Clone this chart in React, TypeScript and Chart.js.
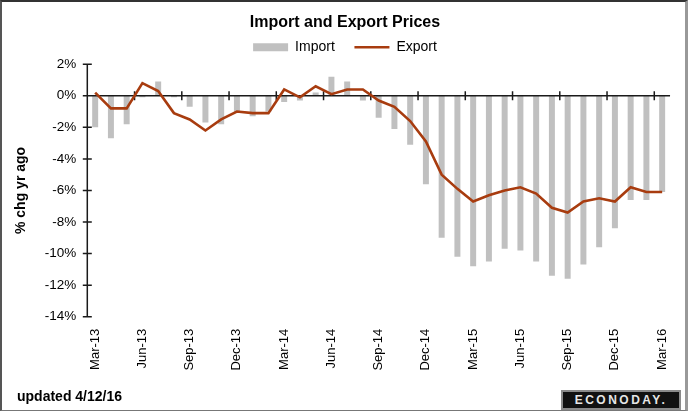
import React, { useEffect, useRef } from "react";
import { Chart, registerables } from "chart.js";

Chart.register(...registerables);

const categories = [
  "Mar-13", "Apr-13", "May-13", "Jun-13", "Jul-13", "Aug-13", "Sep-13", "Oct-13", "Nov-13", "Dec-13",
  "Jan-14", "Feb-14", "Mar-14", "Apr-14", "May-14", "Jun-14", "Jul-14", "Aug-14", "Sep-14", "Oct-14",
  "Nov-14", "Dec-14", "Jan-15", "Feb-15", "Mar-15", "Apr-15", "May-15", "Jun-15", "Jul-15", "Aug-15",
  "Sep-15", "Oct-15", "Nov-15", "Dec-15", "Jan-16", "Feb-16", "Mar-16",
];

const importValues = [
  -2.0, -2.7, -1.8, -0.1, 0.9, -0.1, -0.7, -1.7, -1.8, -1.1,
  -1.3, -1.0, -0.4, -0.3, 0.2, 1.2, 0.9, -0.3, -1.4, -2.1,
  -3.1, -5.6, -9.0, -10.2, -10.8, -10.5, -9.7, -9.8, -10.5, -11.4,
  -11.6, -10.7, -9.6, -8.4, -6.6, -6.6, -6.1,
];

const exportValues = [
  0.2, -0.8, -0.8, 0.8, 0.3, -1.1, -1.5, -2.2, -1.5, -1.0,
  -1.1, -1.1, 0.4, -0.1, 0.6, 0.1, 0.4, 0.4, -0.3, -0.7,
  -1.6, -2.9, -5.0, -5.9, -6.7, -6.3, -6.0, -5.8, -6.2, -7.1,
  -7.4, -6.7, -6.5, -6.7, -5.8, -6.1, -6.1,
];

const yTickValues = [2, 0, -2, -4, -6, -8, -10, -12, -14];
const yMin = -14;
const yMax = 2;
const labelEvery = 3;

const FONT = "'Liberation Sans', Arial, sans-serif";

const axesPlugin = {
  id: "customAxes",
  afterDatasetDraw(chart: any, args: any) {
    if (args.index !== 0) return;
    const { ctx, chartArea, scales } = chart;
    const xs = scales.x;
    const ys = scales.y;
    const y0 = ys.getPixelForValue(0);
    const left = chartArea.left;
    ctx.save();
    ctx.strokeStyle = "#1a1a1a";
    ctx.lineWidth = 1.5;
    ctx.beginPath();
    ctx.moveTo(left, y0);
    ctx.lineTo(chartArea.right, y0);
    ctx.moveTo(left, ys.getPixelForValue(yMax));
    ctx.lineTo(left, ys.getPixelForValue(yMin));
    yTickValues.forEach((v) => {
      const py = ys.getPixelForValue(v);
      ctx.moveTo(left - 4.5, py);
      ctx.lineTo(left + 4.5, py);
    });
    for (let i = labelEvery; i < categories.length; i += labelEvery) {
      const px = (xs.getPixelForValue(i) + xs.getPixelForValue(i - 1)) / 2;
      ctx.moveTo(px, y0 - 4.5);
      ctx.lineTo(px, y0 + 4.5);
    }
    ctx.stroke();
    ctx.restore();
  },
};

export default function App() {
  const canvasRef = useRef<HTMLCanvasElement | null>(null);

  useEffect(() => {
    const canvas = canvasRef.current;
    if (!canvas) return;
    const chart = new Chart(canvas, {
      type: "bar",
      data: {
        labels: categories,
        datasets: [
          {
            type: "bar",
            label: "Import",
            data: importValues,
            backgroundColor: "#c0c0c0",
            borderWidth: 0,
            categoryPercentage: 1,
            barPercentage: 0.38,
            pointStyle: "rect",
            order: 2,
          } as any,
          {
            type: "line",
            label: "Export",
            data: exportValues,
            borderColor: "#a83c0f",
            backgroundColor: "#a83c0f",
            borderWidth: 2.6,
            pointRadius: 0,
            pointStyle: "line",
            tension: 0,
            order: 1,
          } as any,
        ],
      },
      options: {
        responsive: false,
        animation: false,
        devicePixelRatio: 1,
        layout: { padding: { left: 0, right: 0, top: 0, bottom: 0 } },
        plugins: {
          title: {
            display: true,
            text: "Import and Export Prices",
            color: "#000",
            font: { family: FONT, size: 16, weight: "bold" },
            padding: { top: 13, bottom: 0 },
          },
          legend: {
            display: true,
            labels: {
              usePointStyle: true,
              pointStyleWidth: 35,
              boxHeight: 8,
              color: "#000",
              padding: 8,
              font: { family: FONT, size: 14 },
              sort: (a: any, b: any) => a.datasetIndex - b.datasetIndex,
              generateLabels: (c: any) =>
                (Chart.defaults.plugins.legend.labels as any)
                  .generateLabels(c)
                  .map((l: any) => (l.datasetIndex === 0 ? { ...l, text: l.text + "   " } : l)),
            },
          },
          tooltip: { enabled: false },
        },
        scales: {
          x: {
            offset: true,
            grid: { display: false, drawTicks: false },
            border: { display: false },
            ticks: {
              autoSkip: false,
              maxRotation: 90,
              minRotation: 90,
              padding: 12,
              color: "#000",
              font: { family: FONT, size: 13 },
              callback: (_v: any, i: number) => (i % labelEvery === 0 ? categories[i] : null),
            },
            afterFit: (s: any) => {
              s.height = 95.3;
            },
          },
          y: {
            min: yMin,
            max: yMax,
            grid: { display: false, drawTicks: false },
            border: { display: false },
            ticks: {
              stepSize: 2,
              padding: 11,
              color: "#000",
              font: { family: FONT, size: 13.5 },
              callback: (v: any) => v + "%",
            },
            title: {
              display: true,
              text: "% chg yr ago",
              color: "#000",
              font: { family: FONT, size: 14, weight: "bold" },
              padding: { top: 13, bottom: 0 },
            },
            afterFit: (s: any) => {
              s.width = 87.3;
            },
          },
          yRight: {
            position: "right",
            min: yMin,
            max: yMax,
            grid: { display: false, drawTicks: false },
            border: { display: false },
            ticks: { display: false },
            afterFit: (s: any) => {
              s.width = 18;
            },
          },
        },
      },
      plugins: [axesPlugin],
    });
    return () => chart.destroy();
  }, []);

  return (
    <div style={{ position: "absolute", left: 0, top: 0, width: 690, height: 412, background: "#fff", overflow: "hidden" }}>
      <canvas ref={canvasRef} width={690} height={412} style={{ position: "absolute", left: 0, top: 0, width: 690, height: 412 }} />
      <div
        style={{
          position: "absolute",
          left: 17,
          top: 388,
          font: `bold 14px ${FONT}`,
          color: "#000",
          whiteSpace: "nowrap",
        }}
      >
        updated 4/12/16
      </div>
      <div
        style={{
          position: "absolute",
          left: 561,
          top: 390,
          width: 120,
          height: 20,
          boxSizing: "border-box",
          background: "#111",
          border: "2px solid #8a8a8a",
          color: "#e6e6e6",
          font: `bold 12px ${FONT}`,
          letterSpacing: "2.5px",
          display: "flex",
          alignItems: "center",
          justifyContent: "center",
          whiteSpace: "nowrap",
        }}
      >
        ECONODAY.
      </div>
      <div
        style={{
          position: "absolute",
          left: 0,
          top: 0,
          width: 688,
          height: 411,
          boxSizing: "border-box",
          borderTop: "2px solid #333",
          borderLeft: "2px solid #555",
          borderBottom: "1px solid #777",
          borderRight: "3px solid #999",
          pointerEvents: "none",
        }}
      />
    </div>
  );
}
